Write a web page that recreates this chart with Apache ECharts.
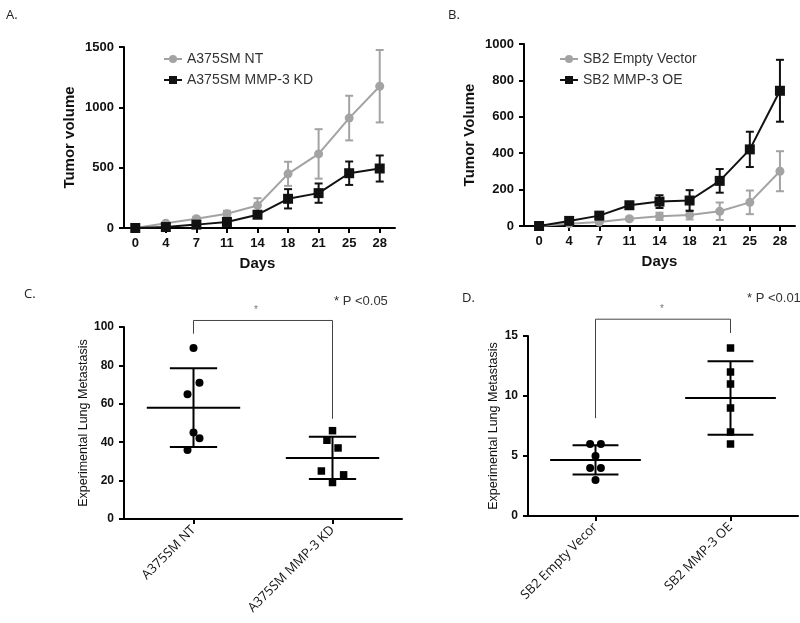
<!DOCTYPE html>
<html><head><meta charset="utf-8">
<script src="https://cdn.jsdelivr.net/npm/echarts@6/dist/echarts.min.js"></script>
<style>html,body{margin:0;padding:0;background:#fff}#c{width:800px;height:623px}</style>
</head><body><div id="c"></div>
<script>
// ---------- DATA ----------
const days = ['0','4','7','11','14','18','21','25','28'];
// Panel A
const aNT      = [0, 40, 77, 118, 187, 449, 614, 911, 1175];
const aNTerr   = [0, 10, 15, 25, 60, 100, 205, 185, 300];
const aKD      = [0, 8, 28, 50, 110, 242, 289, 454, 493];
const aKDerr   = [0, 5, 10, 15, 20, 80, 80, 97, 108];
// Panel B
const bEV      = [0, 13, 22, 40, 53, 61, 81, 130, 301];
const bEVerr   = [0, 5, 8, 8, 20, 25, 48, 65, 110];
const bOE      = [0, 28, 57, 114, 134, 140, 248, 421, 743];
const bOEerr   = [0, 5, 8, 15, 35, 57, 65, 97, 170];
// Panel C
const cCats    = ['A375SM NT', 'A375SM MMP-3 KD'];
const cNT      = [89, 71, 65, 45, 42, 36];
const cNTjit   = [0, 0.043, -0.043, 0, 0.043, -0.043];
const cKD      = [46, 41, 37, 25, 23, 19];
const cKDjit   = [0, -0.04, 0.04, -0.08, 0.08, 0];
const cMean    = [58, 31.8];
const cSD      = [20.5, 11];
const cBracket = [96.5, 103.4, 52.2]; // left end, top, right end
// Panel D
const dCats    = ['SB2 Empty Vecor', 'SB2 MMP-3 OE'];
const dEV      = [6, 6, 5, 4, 4, 3];
const dEVjit   = [-0.04, 0.04, 0, -0.04, 0.04, 0];
const dOE      = [14, 12, 11, 9, 7, 6];
const dOEjit   = [0, 0, 0, 0, 0, 0];
const dMean    = [4.67, 9.83];
const dSD      = [1.22, 3.06];
const dBracket = [8.15, 16.4, 15.25];

// ---------- STYLE ----------
const GREY = '#a3a3a3', BLACK = '#111';
const SANS = 'Liberation Sans, Arial, sans-serif';
const OPEN = 'Open Sans, Liberation Sans, sans-serif';

function errData(vals, errs){ return vals.map((v,i)=>[i, v-errs[i], v+errs[i]]); }
function errSeries(name, vals, errs, color, xi, yi){
  return { type:'custom', name, xAxisIndex:xi, yAxisIndex:yi, z:3,
    data: errData(vals, errs),
    renderItem(params, api){
      const x = api.value(0);
      const lo = api.coord([x, api.value(1)]), hi = api.coord([x, api.value(2)]);
      const w = 4;
      const st = {stroke: color, lineWidth: 2};
      return {type:'group', children:[
        {type:'line', shape:{x1:lo[0], y1:lo[1], x2:hi[0], y2:hi[1]}, style:st},
        {type:'line', shape:{x1:lo[0]-w, y1:lo[1], x2:lo[0]+w, y2:lo[1]}, style:st},
        {type:'line', shape:{x1:hi[0]-w, y1:hi[1], x2:hi[0]+w, y2:hi[1]}, style:st}
      ]};
    }
  };
}
function lineSeries(name, vals, color, symbol, size, xi, yi, z){
  return { type:'line', name, xAxisIndex:xi, yAxisIndex:yi, data: vals, z,
    symbol, symbolSize:size, showSymbol:true,
    itemStyle:{color}, lineStyle:{color, width:2}, emphasis:{disabled:true} };
}
function scatter(name, vals, jit, symbol, size, xi, yi, cat){
  return { type:'scatter', name, xAxisIndex:xi, yAxisIndex:yi, symbol, symbolSize:size,
    data: vals.map((v,i)=>[cat + jit[i], v]), itemStyle:{color:'#000', opacity:1}, z:4 };
}
function meanSD(name, means, sds, xi, yi){
  return { type:'custom', name, xAxisIndex:xi, yAxisIndex:yi, z:3,
    data: means.map((m,i)=>[i, m, sds[i]]),
    renderItem(params, api){
      const c = api.value(0), m = api.value(1), s = api.value(2);
      const st = {stroke:'#000', lineWidth:2};
      const mL = api.coord([c-0.336, m]), mR = api.coord([c+0.336, m]);
      const uL = api.coord([c-0.17, m+s]), uR = api.coord([c+0.17, m+s]);
      const lL = api.coord([c-0.17, m-s]), lR = api.coord([c+0.17, m-s]);
      const u = api.coord([c, m+s]), l = api.coord([c, m-s]);
      return {type:'group', children:[
        {type:'line', shape:{x1:mL[0],y1:mL[1],x2:mR[0],y2:mR[1]}, style:st},
        {type:'line', shape:{x1:uL[0],y1:uL[1],x2:uR[0],y2:uR[1]}, style:st},
        {type:'line', shape:{x1:lL[0],y1:lL[1],x2:lR[0],y2:lR[1]}, style:st},
        {type:'line', shape:{x1:u[0],y1:u[1],x2:l[0],y2:l[1]}, style:st}
      ]};
    }
  };
}
function bracket(name, b, xi, yi){
  return { type:'custom', name, xAxisIndex:xi, yAxisIndex:yi, clip:false, z:2,
    data: [[0, b[0], b[1], b[2]]],
    renderItem(params, api){
      const p1 = api.coord([0, api.value(1)]), p2 = api.coord([0, api.value(2)]);
      const p3 = api.coord([1, api.value(2)]), p4 = api.coord([1, api.value(3)]);
      return {type:'polyline', shape:{points:[p1,p2,p3,p4]}, style:{stroke:'#444', lineWidth:1, fill:null}};
    }
  };
}

const axisLine = {show:true, onZero:false, lineStyle:{color:'#000', width:2}};
const tick = {show:true, inside:false, length:5, lineStyle:{color:'#000', width:2}};
const plain = v => String(v);
function valY(gi, min, max, interval, name, opts){
  return Object.assign({ type:'value', gridIndex:gi, min, max, interval,
    axisLine, axisTick:tick, splitLine:{show:false},
    axisLabel:{fontFamily:SANS, fontWeight:'bold', fontSize:13, color:'#111', margin:10, formatter:plain},
    name, nameLocation:'middle', nameGap:47,
    nameTextStyle:{fontFamily:SANS, fontWeight:'bold', fontSize:15, color:'#111'} }, opts||{});
}

const option = {
  animation:false,
  backgroundColor:'#fff',
  grid:[
    {left:120, top:47, width:275, height:181},
    {left:524, top:44, width:271, height:182},
    {left:124, top:327, width:278, height:192},
    {left:528, top:336, width:270, height:180}
  ],
  xAxis:[
    {type:'category', gridIndex:0, data:days, boundaryGap:true, axisLine, axisTick:Object.assign({alignWithLabel:true}, tick),
     axisLabel:{fontFamily:SANS, fontWeight:'bold', fontSize:13, color:'#111', margin:9, interval:0},
     name:'Days', nameLocation:'middle', nameGap:28, nameTextStyle:{fontFamily:SANS, fontWeight:'bold', fontSize:15, color:'#111'}},
    {type:'category', gridIndex:1, data:days, boundaryGap:true, axisLine, axisTick:Object.assign({alignWithLabel:true}, tick),
     axisLabel:{fontFamily:SANS, fontWeight:'bold', fontSize:13, color:'#111', margin:9, interval:0},
     name:'Days', nameLocation:'middle', nameGap:28, nameTextStyle:{fontFamily:SANS, fontWeight:'bold', fontSize:15, color:'#111'}},
    {type:'category', gridIndex:2, data:cCats, boundaryGap:true, axisLine, axisTick:Object.assign({alignWithLabel:true}, tick),
     axisLabel:{fontFamily:OPEN, fontSize:13, color:'#111', rotate:45, margin:9, interval:0}},
    {type:'value', gridIndex:2, min:-0.5, max:1.5, show:false},
    {type:'category', gridIndex:3, data:dCats, boundaryGap:true, axisLine, axisTick:Object.assign({alignWithLabel:true}, tick),
     axisLabel:{fontFamily:OPEN, fontSize:13, color:'#111', rotate:45, margin:9, interval:0}},
    {type:'value', gridIndex:3, min:-0.5, max:1.5, show:false}
  ],
  yAxis:[
    valY(0, 0, 1500, 500, 'Tumor volume', {offset:-4}),
    valY(1, 0, 1000, 200, 'Tumor Volume'),
    valY(2, 0, 100, 20, 'Experimental Lung Metastasis', {nameGap:34,
      axisLabel:{fontFamily:SANS, fontWeight:'bold', fontSize:12, color:'#111', margin:10, formatter:plain},
      nameTextStyle:{fontFamily:SANS, fontSize:12.5, color:'#111'}}),
    valY(3, 0, 15, 5, 'Experimental Lung Metastasis', {nameGap:28,
      axisLabel:{fontFamily:SANS, fontWeight:'bold', fontSize:12, color:'#111', margin:10, formatter:plain},
      nameTextStyle:{fontFamily:SANS, fontSize:12.5, color:'#111'}})
  ],
  legend:[
    {orient:'vertical', left:158, top:47, itemWidth:18, itemHeight:10, itemGap:7,
     data:['A375SM NT','A375SM MMP-3 KD'], textStyle:{fontFamily:SANS, fontSize:14, color:'#333'}, selectedMode:false},
    {orient:'vertical', left:554, top:47, itemWidth:18, itemHeight:10, itemGap:7,
     data:['SB2 Empty Vector','SB2 MMP-3 OE'], textStyle:{fontFamily:SANS, fontSize:14, color:'#333'}, selectedMode:false}
  ],
  series:[
    errSeries('errNT', aNT, aNTerr, GREY, 0, 0),
    lineSeries('A375SM NT', aNT, GREY, 'circle', 9, 0, 0, 2),
    errSeries('errKD', aKD, aKDerr, BLACK, 0, 0),
    lineSeries('A375SM MMP-3 KD', aKD, BLACK, 'rect', 10, 0, 0, 4),
    errSeries('errEV', bEV, bEVerr, GREY, 1, 1),
    lineSeries('SB2 Empty Vector', bEV, GREY, 'circle', 9, 1, 1, 2),
    errSeries('errOE', bOE, bOEerr, BLACK, 1, 1),
    lineSeries('SB2 MMP-3 OE', bOE, BLACK, 'rect', 10, 1, 1, 4),
    scatter('cNT', cNT, cNTjit, 'circle', 8, 3, 2, 0),
    scatter('cKD', cKD, cKDjit, 'rect', 7.5, 3, 2, 1),
    meanSD('cMean', cMean, cSD, 3, 2),
    bracket('cBr', cBracket, 3, 2),
    scatter('dEV', dEV, dEVjit, 'circle', 8, 5, 3, 0),
    scatter('dOE', dOE, dOEjit, 'rect', 7.5, 5, 3, 1),
    meanSD('dMean', dMean, dSD, 5, 3),
    bracket('dBr', dBracket, 5, 3)
  ],
  graphic:[
    {type:'text', left:6, top:9, style:{text:'A.', font:'13px '+OPEN, fill:'#222'}},
    {type:'text', left:448, top:9, style:{text:'B.', font:'13px '+OPEN, fill:'#222'}},
    {type:'text', left:24, top:288, style:{text:'C.', font:'13px '+OPEN, fill:'#222'}},
    {type:'text', left:462, top:292, style:{text:'D.', font:'13px '+OPEN, fill:'#222'}},
    {type:'text', left:254, top:305, style:{text:'*', font:'10px '+SANS, fill:'#777'}},
    {type:'text', left:660, top:304, style:{text:'*', font:'10px '+SANS, fill:'#777'}},
    {type:'text', left:334, top:295, style:{text:'* P <0.05', font:'13px '+SANS, fill:'#333'}},
    {type:'text', left:747, top:292, style:{text:'* P <0.01', font:'13px '+SANS, fill:'#333'}}
  ]
};
const chart = echarts.init(document.getElementById('c'), null, {renderer:'canvas'});
chart.setOption(option);
</script></body></html>
